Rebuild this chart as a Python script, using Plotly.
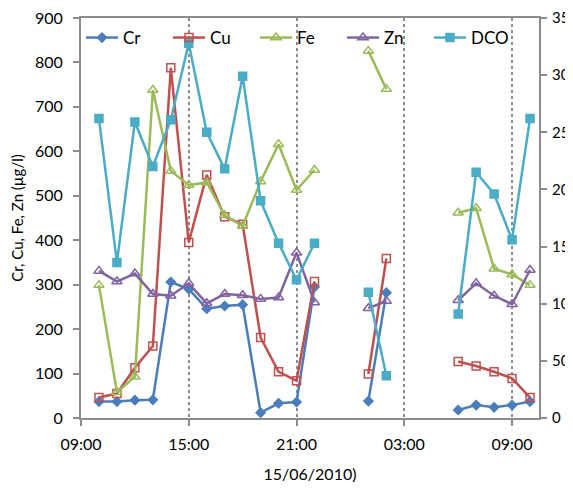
import plotly.graph_objects as go

# hourly sampling times (None values = no sample)
times = [
    "2010-06-15 10:00", "2010-06-15 11:00", "2010-06-15 12:00", "2010-06-15 13:00",
    "2010-06-15 14:00", "2010-06-15 15:00", "2010-06-15 16:00", "2010-06-15 17:00",
    "2010-06-15 18:00", "2010-06-15 19:00", "2010-06-15 20:00", "2010-06-15 21:00",
    "2010-06-15 22:00", "2010-06-15 23:00", "2010-06-16 00:00", "2010-06-16 01:00",
    "2010-06-16 02:00", "2010-06-16 03:00", "2010-06-16 04:00", "2010-06-16 05:00",
    "2010-06-16 06:00", "2010-06-16 07:00", "2010-06-16 08:00", "2010-06-16 09:00",
    "2010-06-16 10:00",
]
N = None
cr = [37, 37, 40, 41, 306, 290, 246, 252, 255, 12, 33, 36, 295, N, N, 38, 282, N, N, N, 18, 29, 24, 29, 37]
cu = [46, 55, 113, 162, 788, 395, 547, 453, 436, 181, 104, 84, 307, N, N, 99, 359, N, N, N, 127, 117, 104, 89, 46]
fe = [299, 58, 93, 738, 556, 524, 530, 456, 432, 532, 616, 513, 558, N, N, 826, 740, N, N, N, 462, 472, 336, 323, 299]
zn = [331, 307, 325, 279, 275, 303, 258, 279, 276, 268, 271, 372, 260, N, N, 247, 263, N, N, N, 265, 303, 275, 256, 333]
dco = [262, 136, 259, 220, 261, 328, 250, 218, 299, 190, 153, 121, 153, N, N, 110, 37, N, N, N, 91, 215, 196, 156, 262]

x_ticks = ["2010-06-15 09:00", "2010-06-15 15:00", "2010-06-15 21:00", "2010-06-16 03:00", "2010-06-16 09:00"]
x_tick_text = ["09:00", "15:00", "21:00", "03:00", "09:00"]
y_left_ticks = list(range(0, 901, 100))
y_right_ticks = list(range(0, 351, 50))

FONT = "Lato"
AXC = "#8c8c8c"

fig = go.Figure()

def add(name, y, color, symbol, size, axis="y", lw=2.5):
    fig.add_trace(go.Scatter(
        x=times, y=y, name=name, mode="lines+markers", yaxis=axis,
        connectgaps=False,
        line=dict(color=color, width=lw),
        marker=dict(symbol=symbol, size=size, color=color,
                    line=dict(color=color, width=1.5)),
    ))

add("Cr", cr, "#4a7ebb", "diamond", 7)
add("Cu", cu, "#c0504d", "square-open", 8)
add("Fe", fe, "#9bbb59", "triangle-up-open", 9)
add("Zn", zn, "#8064a2", "triangle-up-open", 9)
add("DCO", dco, "#4bacc6", "square", 8, axis="y2")

# page body has an 8px default margin, so the figure is 8px smaller
fig.update_layout(
    width=565, height=481,
    margin=dict(l=73, r=34, t=10, b=71),
    paper_bgcolor="white", plot_bgcolor="white",
    font=dict(family=FONT, size=16, color="black"),
    showlegend=True,
    legend=dict(orientation="h", x=0, y=0.995, xanchor="left", yanchor="top",
                bgcolor="rgba(0,0,0,0)", font=dict(size=17),
                entrywidth=40, entrywidthmode="pixels", itemwidth=32,
                tracegroupgap=0),
    xaxis=dict(
        type="date", automargin=False,
        range=["2010-06-15 09:00", "2010-06-16 10:30"],
        tickvals=x_ticks, ticktext=x_tick_text,
        showgrid=True, gridcolor="#8c8c8c", griddash="dot", gridwidth=1.5,
        showline=True, linecolor=AXC, linewidth=2, mirror=True,
        ticks="outside", ticklen=6, tickcolor=AXC, tickwidth=2,
        ticklabelstandoff=5, ticklabeloverflow="allow",
        zeroline=False,
        title=dict(text="15/06/2010)", font=dict(size=16), standoff=17),
    ),
    yaxis=dict(
        range=[0, 900], tickvals=y_left_ticks, automargin=False,
        showgrid=False, zeroline=False,
        showline=True, linecolor=AXC, linewidth=2,
        ticks="outside", ticklen=6, tickcolor=AXC, tickwidth=2,
        ticklabelstandoff=7, ticklabeloverflow="allow",
        title=dict(text="Cr, Cu, Fe, Zn (µg/l)", font=dict(size=15), standoff=11),
    ),
    yaxis2=dict(
        range=[0, 350], tickvals=y_right_ticks, automargin=False,
        overlaying="y", side="right",
        showgrid=False, zeroline=False,
        showline=True, linecolor=AXC, linewidth=2,
        ticks="outside", ticklen=6, tickcolor=AXC, tickwidth=2,
        ticklabelstandoff=2, ticklabeloverflow="allow",
        tickfont=dict(size=15),
    ),
)

fig.write_html("out.html")
